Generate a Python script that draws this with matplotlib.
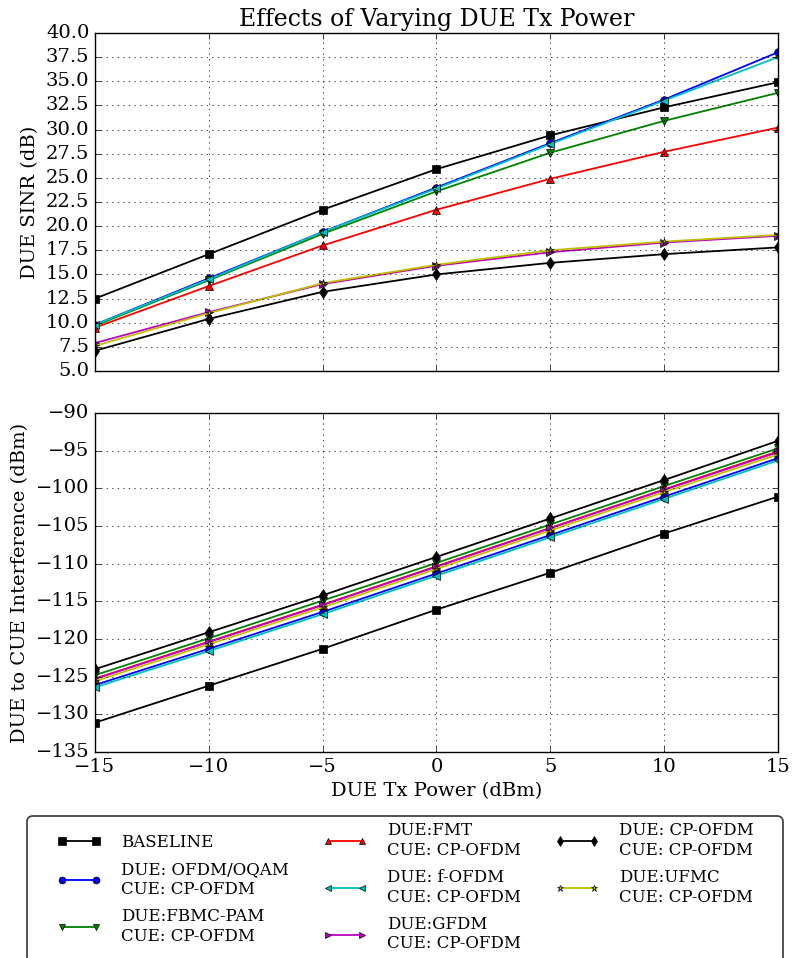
import numpy as np
import matplotlib
matplotlib.use('Agg')
import matplotlib.pyplot as plt
from matplotlib.patches import FancyBboxPatch
from matplotlib.transforms import IdentityTransform

plt.style.use('classic')
plt.rcParams['font.family'] = 'serif'
plt.rcParams['font.serif'] = ['DejaVu Serif']
plt.rcParams['lines.linewidth'] = 1.3

# DUE transmit power (dBm)
tx_power = [-15, -10, -5, 0, 5, 10, 15]

# DUE SINR (dB)
sinr_baseline = [12.5, 17.1, 21.7, 25.9, 29.4, 32.3, 34.9]
sinr_oqam = [9.8, 14.6, 19.4, 24.0, 28.6, 33.1, 38.0]
sinr_fbmc = [9.7, 14.4, 19.2, 23.6, 27.6, 30.9, 33.8]
sinr_fmt = [9.5, 13.8, 18.0, 21.7, 24.9, 27.7, 30.2]
sinr_fofdm = [9.8, 14.5, 19.4, 23.9, 28.5, 33.0, 37.5]
sinr_gfdm = [7.9, 11.1, 14.0, 15.9, 17.3, 18.3, 19.0]
sinr_cpofdm = [7.1, 10.4, 13.2, 15.0, 16.2, 17.1, 17.8]
sinr_ufmc = [7.6, 11.0, 14.1, 16.0, 17.5, 18.4, 19.1]

# DUE to CUE interference (dBm)
intf_baseline = [-131.1, -126.2, -121.3, -116.1, -111.2, -106.0, -101.1]
intf_oqam = [-126.1, -121.3, -116.4, -111.3, -106.2, -101.1, -96.0]
intf_fbmc = [-124.8, -119.9, -114.9, -109.9, -104.8, -99.7, -94.7]
intf_fmt = [-125.25, -120.35, -115.45, -110.35, -105.25, -100.15, -95.1]
intf_fofdm = [-126.4, -121.6, -116.7, -111.6, -106.5, -101.4, -96.3]
intf_gfdm = [-125.3, -120.4, -115.5, -110.4, -105.3, -100.2, -95.2]
intf_cpofdm = [-124.0, -119.1, -114.2, -109.1, -104.0, -98.9, -93.7]
intf_ufmc = [-125.6, -120.7, -115.8, -110.7, -105.6, -100.5, -95.5]

labels = ['BASELINE',
          'DUE: OFDM/OQAM\nCUE: CP-OFDM',
          'DUE:FBMC-PAM\nCUE: CP-OFDM',
          'DUE:FMT\nCUE: CP-OFDM',
          'DUE: f-OFDM\nCUE: CP-OFDM',
          'DUE:GFDM\nCUE: CP-OFDM',
          'DUE: CP-OFDM\nCUE: CP-OFDM',
          'DUE:UFMC\nCUE: CP-OFDM']
styles = ['ks-', 'bo-', 'gv-', 'r^-', 'c<-', 'm>-', 'kd-', 'y*-']

sinr = [sinr_baseline, sinr_oqam, sinr_fbmc, sinr_fmt,
        sinr_fofdm, sinr_gfdm, sinr_cpofdm, sinr_ufmc]
intf = [intf_baseline, intf_oqam, intf_fbmc, intf_fmt,
        intf_fofdm, intf_gfdm, intf_cpofdm, intf_ufmc]

fig = plt.figure(figsize=(7.93, 9.58), dpi=100, facecolor='white')
ax1 = fig.add_axes([0.1198, 0.6127, 0.8612, 0.3529])
ax2 = fig.add_axes([0.1198, 0.2150, 0.8612, 0.3539])

for y, st, lab in zip(sinr, styles, labels):
    ms = 6 if st[1] in 'sd' else 5.5
    ax1.plot(tx_power, y, st, label=lab, markersize=ms)
for y, st, lab in zip(intf, styles, labels):
    ms = 6 if st[1] in 'sd' else 5.5
    ax2.plot(tx_power, y, st, label=lab, markersize=ms)

ax1.set_xlim(-15, 15)
ax1.set_ylim(5, 40)
ax1.set_yticks(np.arange(5, 40.1, 2.5))
ax1.yaxis.set_major_formatter(matplotlib.ticker.FormatStrFormatter('%.1f'))
ax1.set_xticks(tx_power)
ax1.set_xticklabels([])
ax1.grid(True)
ax1.set_ylabel('DUE SINR (dB)', fontsize=14)
ax1.set_title('Effects of Varying DUE Tx Power', fontsize=17)

ax2.set_xlim(-15, 15)
ax2.set_ylim(-135, -90)
ax2.set_yticks(np.arange(-135, -89, 5))
ax2.set_xticks(tx_power)
ax2.grid(True)
ax2.set_xlabel('DUE Tx Power (dBm)', fontsize=14)
ax2.set_ylabel('DUE to CUE Interference (dBm)', fontsize=14)

for ax in (ax1, ax2):
    ax.tick_params(labelsize=14)

# legend below the plots, frame drawn separately (runs off the bottom edge)
handles, labs = ax1.get_legend_handles_labels()
fig.legend(handles, labs, loc='upper left',
           bbox_to_anchor=(57 / 793, 1 - 822 / 958, 697 / 793, 0),
           mode='expand', ncol=3, fontsize=12, numpoints=2, frameon=False,
           markerscale=0.9, borderpad=0, borderaxespad=0,
           handlelength=2.64, handletextpad=1.2, labelspacing=0.62)

frame = FancyBboxPatch((27, -30), 756, 958 - 816 + 30,
                       boxstyle='round,pad=0,rounding_size=6',
                       transform=IdentityTransform(), facecolor='none',
                       edgecolor='#444444', linewidth=1.3)
fig.add_artist(frame)

fig.savefig('out.png', dpi=100)
